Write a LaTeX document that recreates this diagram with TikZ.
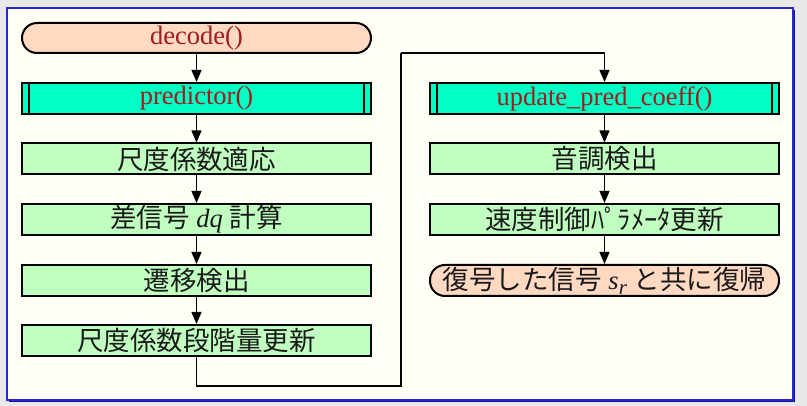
\documentclass[tikz,border=0pt]{standalone}
\usepackage{fontspec}
\setmainfont{Liberation Serif}
\newfontfamily\jp{Noto Sans CJK JP}
\usetikzlibrary{arrows.meta}
\definecolor{peach}{HTML}{FFD9C2}
\definecolor{aqua}{HTML}{00FFC4}
\definecolor{lgreen}{HTML}{C0FFC0}
\definecolor{fname}{HTML}{A01C1C}
\definecolor{frameblue}{HTML}{2828D0}
\definecolor{shadowblue}{HTML}{1010A0}
\definecolor{ivory}{HTML}{FFFFF6}
\definecolor{outgray}{HTML}{E8E8E8}
\definecolor{jptext}{HTML}{1A1A1A}
\begin{document}
\begin{tikzpicture}[x=1pt,y=-1pt,
  box/.style={draw=black, line width=2pt, minimum width=349pt, minimum height=31pt,
    inner sep=0pt, font=\fontsize{26.5}{30}\selectfont, text=jptext},
  proc/.style={box, fill=aqua, text=fname},
  stepbox/.style={box, fill=lgreen},
  term/.style={box, fill=peach, rounded corners=15pt},
  flow/.style={line width=1.3pt, -{Triangle[length=12pt,width=10pt]}},
  link/.style={line width=1.3pt},
]
\useasboundingbox (0,0) rectangle (807,406);
\fill[outgray] (0,0) rectangle (807,406);
\draw[shadowblue, line width=1.4pt] (9,401.3) -- (794.3,401.3) -- (794.3,10);
\draw[fill=ivory, draw=frameblue, line width=1.6pt] (7,8) rectangle (793,400);

\node[term, text=fname, minimum height=30pt] (dec) at (196.5,38) {decode()};
\node[proc] (pred) at (196.5,98.5) {predictor()};
\node[stepbox] (s1) at (196.5,159) {\jp 尺度係数適応};
\node[stepbox] (s2) at (196.5,219.5) {{\jp 差信号} \textit{dq} {\jp 計算}};
\node[stepbox] (s3) at (196.5,280.5) {\jp 遷移検出};
\node[stepbox] (s4) at (196.5,340.5) {\jp 尺度係数段階量更新};

\node[proc] (upd) at (604.5,98.5) {update\_pred\_coeff()};
\node[stepbox] (r1) at (604.5,159) {\jp 音調検出};
\node[stepbox] (r2) at (604.5,219.5) {\jp 速度制御ﾊﾟﾗﾒｰﾀ更新};
\node[term] (ret) at (604.5,280.5) {{\jp 復号した信号} \textit{s}\raisebox{-5pt}{\fontsize{21}{21}\selectfont\textit{r}} {\jp と共に復帰}};

\foreach \n in {pred,upd}{
  \draw[line width=1.3pt] ([xshift=8pt]\n.north west) -- ([xshift=8pt]\n.south west);
  \draw[line width=1.3pt] ([xshift=-8pt]\n.north east) -- ([xshift=-8pt]\n.south east);
}

\draw[flow] (dec) -- (pred);
\draw[flow] (pred) -- (s1);
\draw[flow] (s1) -- (s2);
\draw[flow] (s2) -- (s3);
\draw[flow] (s3) -- (s4);
\draw[flow] (upd) -- (r1);
\draw[flow] (r1) -- (r2);
\draw[flow] (r2) -- (ret);

\coordinate (turn) at (401,386);
\coordinate (topc) at (401,53);
\draw[link] (s4.south) -- (s4.south |- turn) -- (turn) -- (topc);
\draw[flow] (topc) -| (upd.north);
\end{tikzpicture}
\end{document}
